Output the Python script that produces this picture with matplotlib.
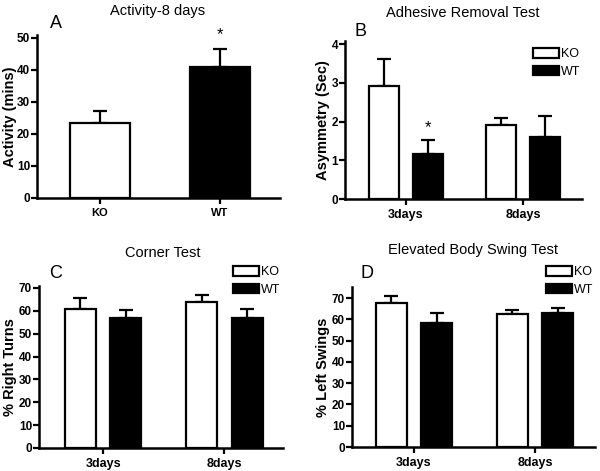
import matplotlib
matplotlib.use("Agg")
import matplotlib.pyplot as plt
from matplotlib.patches import Patch
import numpy as np

plt.rcParams['font.family'] = ['Liberation Sans', 'DejaVu Sans']

# ---- data ----
a_groups = ["KO", "WT"]
a_mean = [23.3, 41.0]
a_err = [4.0, 5.5]

days = ["3days", "8days"]
b_ko = [2.93, 1.90]
b_ko_err = [0.69, 0.18]
b_wt = [1.15, 1.60]
b_wt_err = [0.38, 0.55]

c_ko = [60.8, 63.8]
c_ko_err = [4.7, 3.2]
c_wt = [57.0, 57.0]
c_wt_err = [3.5, 4.0]

d_ko = [67.5, 62.5]
d_ko_err = [3.5, 2.0]
d_wt = [58.5, 63.0]
d_wt_err = [4.5, 2.5]

W, H = 600, 471
fig = plt.figure(figsize=(6, 4.71), dpi=100)

def frac_box(l, r, b, t):
    return [l / W, 1 - b / H, (r - l) / W, (b - t) / H]

def style(ax, xsize=8.5):
    for s in ['top', 'right']:
        ax.spines[s].set_visible(False)
    for s in ['left', 'bottom']:
        ax.spines[s].set_linewidth(1.8)
    ax.tick_params(direction='out', length=4, width=1.6, labelsize=8.5, pad=1.0)
    ax.tick_params(axis='x', labelsize=xsize, pad=3)
    for lab in ax.get_xticklabels() + ax.get_yticklabels():
        lab.set_fontweight('bold')

ekw = dict(elinewidth=1.6, capthick=1.6, capsize=5.2, ecolor='black')

# Panel A
axA = fig.add_axes(frac_box(37, 280, 198, 34.8))
x = np.arange(len(a_groups))
colors = ['white', 'black']
for i in range(len(a_groups)):
    axA.bar(x[i], a_mean[i], width=0.5, color=colors[i], edgecolor='black', linewidth=1.6, zorder=2)
    axA.errorbar(x[i], a_mean[i], yerr=[[0], [a_err[i]]], fmt='none', zorder=1, **ekw)
axA.set_xlim(-0.525, 1.5)
axA.set_ylim(0, 51)
axA.set_yticks([0, 10, 20, 30, 40, 50])
axA.set_xticks(x)
axA.set_xticklabels(a_groups)
axA.set_ylabel("Activity (mins)", fontsize=10.5, fontweight='bold', labelpad=0)
style(axA, xsize=8)
axA.annotate("*", (x[1], a_mean[1] + a_err[1]), xytext=(0, 5), textcoords='offset points',
             ha='center', va='bottom', fontsize=12, annotation_clip=False)

def grouped(ax, ko, koe, wt, wte, xl, yl, yt, ylabel):
    xg = np.arange(len(days))
    off, w = 0.188, 0.256
    ax.bar(xg - off, ko, width=w, color='white', edgecolor='black', linewidth=1.6, zorder=2, label='KO')
    ax.bar(xg + off, wt, width=w, color='black', edgecolor='black', linewidth=1.6, zorder=2, label='WT')
    ax.errorbar(xg - off, ko, yerr=[np.zeros(len(ko)), koe], fmt='none', zorder=1, **ekw)
    ax.errorbar(xg + off, wt, yerr=[np.zeros(len(wt)), wte], fmt='none', zorder=1, **ekw)
    ax.set_xlim(*xl)
    ax.set_ylim(*yl)
    ax.set_yticks(yt)
    ax.set_xticks(xg)
    ax.set_xticklabels(days)
    ax.set_ylabel(ylabel, fontsize=10.5, fontweight='bold', labelpad=1)
    style(ax, xsize=9)
    return xg, off

# Panel B
axB = fig.add_axes(frac_box(345, 582, 199, 41))
xg, off = grouped(axB, b_ko, b_ko_err, b_wt, b_wt_err, (-0.521, 1.504), (0, 4.08), [0, 1, 2, 3, 4], "Asymmetry (Sec)")
axB.annotate("*", (xg[0] + off, b_wt[0] + b_wt_err[0]), xytext=(0, 3), textcoords='offset points',
             ha='center', va='bottom', fontsize=12)

# Panel C
axC = fig.add_axes(frac_box(39, 283, 448, 285.7))
grouped(axC, c_ko, c_ko_err, c_wt, c_wt_err, (-0.53, 1.485), (0, 71), list(range(0, 71, 10)), "% Right Turns")

# Panel D
axD = fig.add_axes(frac_box(352, 595, 447, 287.4))
grouped(axD, d_ko, d_ko_err, d_wt, d_wt_err, (-0.512, 1.496), (0, 75), list(range(0, 71, 10)), "% Left Swings")

# Legends (figure-level placement)
def legend(xpx, ypx):
    handles = [Patch(facecolor='white', edgecolor='black', linewidth=1.6, label='KO'),
               Patch(facecolor='black', edgecolor='black', linewidth=1.6, label='WT')]
    fig.legend(handles=handles, loc='upper left', bbox_to_anchor=(xpx / W, 1 - ypx / H),
               frameon=False, fontsize=9, handlelength=2.1, handleheight=0.8,
               handletextpad=0.15, labelspacing=0.45, borderpad=0, borderaxespad=0)

legend(533, 48)
legend(233, 266)
legend(546, 266)

# Titles and panel letters
def ftext(xpx, ypx, s, size, **kw):
    fig.text(xpx / W, 1 - ypx / H, s, fontsize=size, ha='center', va='center', **kw)

ftext(158, 11, "Activity-8 days", 10.5)
ftext(463, 13, "Adhesive Removal Test", 10.5)
ftext(163, 253, "Corner Test", 10.5)
ftext(473, 250, "Elevated Body Swing Test", 10.5)

ftext(56, 23, "A", 13)
ftext(360, 31, "B", 13)
ftext(56, 273, "C", 13)
ftext(367, 274, "D", 13)

fig.savefig("out.png", dpi=100)
